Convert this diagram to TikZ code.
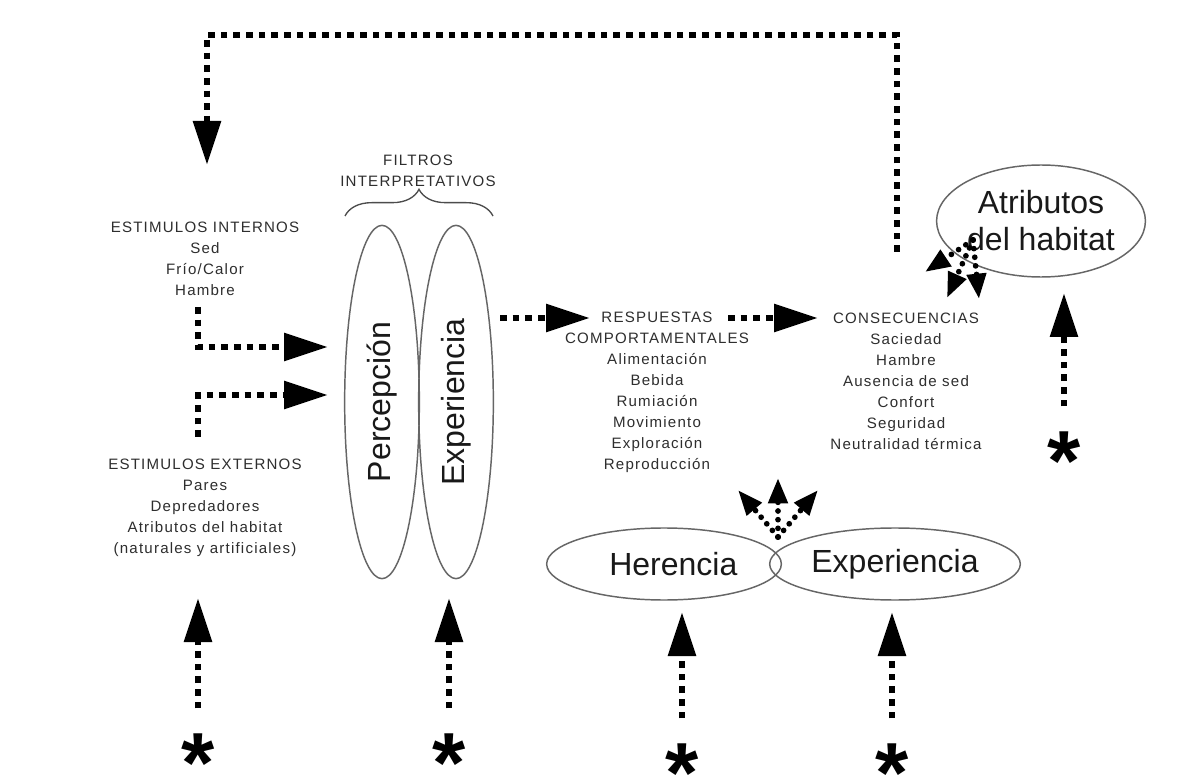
\documentclass[tikz,border=0pt]{standalone}
\usepackage{fontspec}
\setmainfont{Liberation Sans}
\newfontfamily\smallfont[LetterSpace=8]{Liberation Sans}
\usetikzlibrary{arrows.meta,decorations.pathreplacing,shapes.geometric}
\tikzset{
  stxt/.style={font=\smallfont\fontsize{11.3}{15.75}\selectfont, text=black!82, align=center, inner sep=0pt},
  big/.style={font=\fontsize{24}{27.75}\selectfont, align=center, text=black!90},
  oval/.style={ellipse, draw=black!60, line width=1.1pt, inner sep=0pt},
  dots/.style={line width=5pt, dash pattern=on 5pt off 4.5pt, draw=black},
  bigtip/.style={-{Triangle[length=33pt,width=20pt]}},
  fan/.style={line width=4.3pt, line cap=round, dash pattern=on 0pt off 6.5pt, draw=black, -{Triangle[length=19pt,width=14pt]}},
  ast/.style={font=\bfseries\fontsize{64}{64}\selectfont, inner sep=0pt, text height=55pt, text depth=-32pt}
}
\begin{document}
\begin{tikzpicture}[x=0.75pt,y=-0.75pt]
\useasboundingbox (0,0) rectangle (1197,784);
\fill[white] (0,0) rectangle (1197,784);

% text blocks
\node[stxt] (filt) at (418,171) {FILTROS\\INTERPRETATIVOS};
\node[stxt] (ei) at (205,259) {ESTIMULOS INTERNOS\\Sed\\Frío/Calor\\Hambre};
\node[stxt] (ee) at (205,508) {ESTIMULOS EXTERNOS\\Pares\\Depredadores\\Atributos del habitat\\(naturales y artificiales)};
\node[stxt] (resp) at (657,392) {RESPUESTAS\\COMPORTAMENTALES\\Alimentación\\Bebida\\Rumiación\\Movimiento\\Exploración\\Reproducción};
\node[stxt] (cons) at (906,381) {CONSECUENCIAS\\Saciedad\\Hambre\\Ausencia de sed\\Confort\\Seguridad\\Neutralidad térmica};

% filter ellipses
\node[oval, big, rotate=90, minimum width=265pt, minimum height=56pt] (perc) at (382,402) {Percepción};
\node[oval, big, rotate=90, minimum width=265pt, minimum height=56pt] (expf) at (456,402) {Experiencia};
\draw[decorate, decoration={brace, amplitude=20pt}, line width=1pt, black!70] (345,216) -- (493,216);

% other ellipses
\node[oval, big, minimum width=141pt, minimum height=84pt] (attr) at (1041,221) {Atributos\\del habitat};
\node[oval, big, minimum width=176pt, minimum height=54pt] (her) at (664,564) {\hspace*{14pt}Herencia};
\node[oval, big, minimum width=188pt, minimum height=54pt] (expb) at (895,564) {Experiencia};

% asterisks
\node[ast] (a1) at (198,756) {*};
\node[ast] (a2) at (449,756) {*};
\node[ast] (a3) at (682,766) {*};
\node[ast] (a4) at (892,766) {*};
\node[ast] (a5) at (1064,454) {*};

% coordinates
\coordinate (fb0) at (897,252);
\coordinate (fbR) at (897,35);
\coordinate (fbL) at (207,35);
\coordinate (fbT) at (207,165);
\coordinate (i0) at (198,307);
\coordinate (i1) at (198,347);
\coordinate (iT) at (328,347);
\coordinate (e0) at (198,437);
\coordinate (e1) at (198,395);
\coordinate (eT) at (328,395);
\coordinate (x0) at (500,318);
\coordinate (xT) at (590,318);
\coordinate (r0) at (728,318);
\coordinate (rT) at (818,318);
\coordinate (f0) at (973,240);
\coordinate (fa) at (925,272);
\coordinate (fb) at (947,298);
\coordinate (fc) at (979,299);
\coordinate (h0) at (778,537);
\coordinate (ha) at (738,490);
\coordinate (hb) at (778,478);
\coordinate (hc) at (818,490);
\coordinate (t1) at (198,598);
\coordinate (t2) at (449,598);
\coordinate (t3) at (682,612);
\coordinate (t4) at (892,612);
\coordinate (t5) at (1064,293);

% connectors
\draw[dots,bigtip] (fb0) -- (fbR) -- (fbL) -- (fbT);
\draw[dots,bigtip] (i0) -- (i1) -- (iT);
\draw[dots,bigtip] (e0) -- (e1) -- (eT);
\draw[dots,bigtip] (x0) -- (xT);
\draw[dots,bigtip] (r0) -- (rT);
\draw[fan] (f0) -- (fa);
\draw[fan] (f0) -- (fb);
\draw[fan] (f0) -- (fc);
\draw[fan] (h0) -- (ha);
\draw[fan] (h0) -- (hb);
\draw[fan] (h0) -- (hc);
\draw[dots,bigtip,shorten <=8pt] (a1.north) -- (t1);
\draw[dots,bigtip,shorten <=8pt] (a2.north) -- (t2);
\draw[dots,bigtip,shorten <=8pt] (a3.north) -- (t3);
\draw[dots,bigtip,shorten <=8pt] (a4.north) -- (t4);
\draw[dots,bigtip,shorten <=8pt] (a5.north) -- (t5);
\end{tikzpicture}
\end{document}
